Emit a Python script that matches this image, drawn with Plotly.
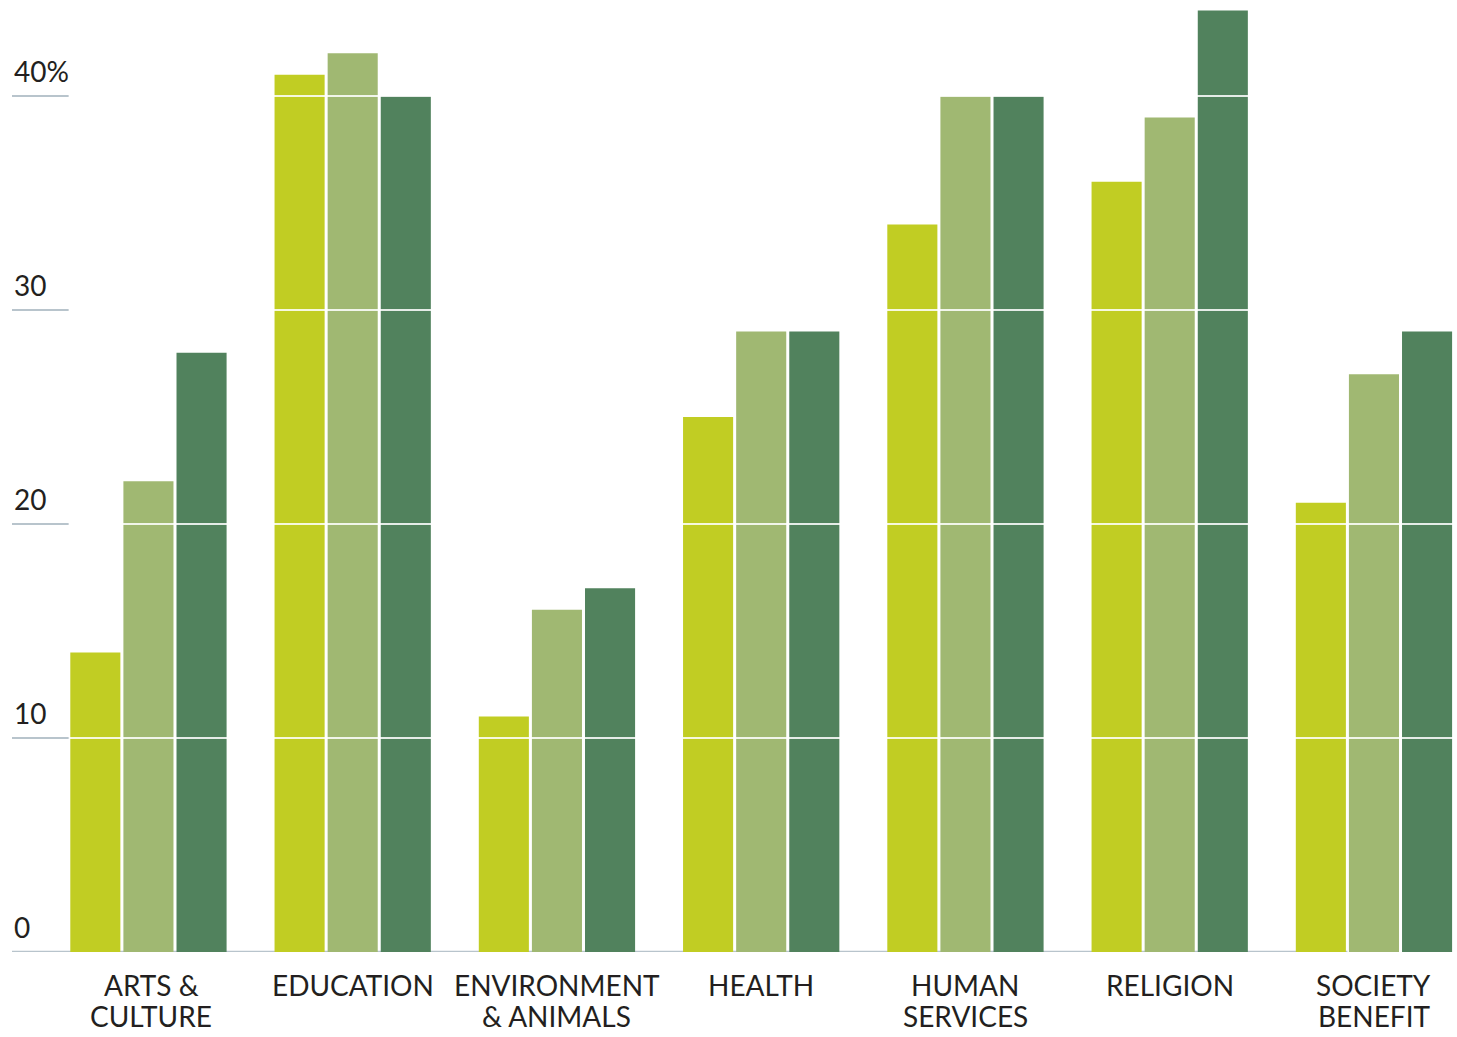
import plotly.graph_objects as go

categories = ["ARTS &<br>CULTURE", "EDUCATION", "ENVIRONMENT<br>& ANIMALS", "HEALTH",
              "HUMAN<br>SERVICES", "RELIGION", "SOCIETY<br>BENEFIT"]
series_a = [14, 41, 11, 25, 34, 36, 21]
series_b = [22, 42, 16, 29, 40, 39, 27]
series_c = [28, 40, 17, 29, 40, 44, 29]
tick_vals = [0, 10, 20, 30, 40]
tick_text = ["0", "10", "20", "30", "40%"]
colors = ["#C1CD23", "#A0B872", "#51825D"]

FONT = "Lato"
TEXT_COLOR = "#231F20"
BARGAP = 0.22
X_MIN, X_MAX = -0.668, 6.387
x_idx = list(range(len(categories)))
bar_start = -(1 - BARGAP) / 2

fig = go.Figure()
for vals, col in zip([series_a, series_b, series_c], colors):
    fig.add_trace(go.Bar(x=x_idx, y=vals, marker=dict(color=col, line=dict(width=0)),
                         showlegend=False, hoverinfo="skip"))

shapes = []
for v in tick_vals:
    if v > 0:
        shapes.append(dict(type="line", xref="x", yref="y", x0=bar_start, x1=X_MAX, y0=v, y1=v,
                           line=dict(color="rgba(255,255,255,0.85)", width=2), layer="above"))
    shapes.append(dict(type="line", xref="x", yref="y", x0=X_MIN, x1=bar_start,
                       y0=v, y1=v, line=dict(color="#B8C4CC", width=2), layer="below"))
shapes.append(dict(type="line", xref="x", yref="y", x0=X_MIN, x1=5.87, y0=0, y1=0,
                   line=dict(color="#B8C4CC", width=2.5), layer="below"))

annotations = []
for v, t in zip(tick_vals, tick_text):
    annotations.append(dict(xref="paper", yref="y", x=0, y=v, text=t, showarrow=False,
                            xanchor="left", yanchor="bottom", yshift=6,
                            font=dict(family=FONT, size=28, color=TEXT_COLOR)))
for i, label in zip(x_idx, categories):
    for j, line in enumerate(label.split("<br>")):
        annotations.append(dict(xref="x", yref="paper", x=i, y=0, text=line, showarrow=False,
                                xanchor="center", yanchor="middle", yshift=-33 - 31 * j,
                                xshift=3 if i == 0 else 0,
                                font=dict(family=FONT, size=28, color=TEXT_COLOR)))

fig.update_layout(
    width=1457, height=1037,
    margin=dict(l=12, r=4, t=0, b=85),
    paper_bgcolor="white", plot_bgcolor="white",
    barmode="group", bargap=BARGAP, bargroupgap=0.057,
    font=dict(family=FONT, size=28, color=TEXT_COLOR),
    xaxis=dict(range=[X_MIN, X_MAX], showgrid=False, zeroline=False, showline=False,
               showticklabels=False, ticks=""),
    yaxis=dict(range=[0, 44.49], showgrid=False, zeroline=False, showline=False,
               showticklabels=False, ticks=""),
    shapes=shapes, annotations=annotations,
)

fig.write_html("out.html", config={"displayModeBar": False},
               post_script="document.body.style.margin='0';document.body.style.overflow='hidden';")
